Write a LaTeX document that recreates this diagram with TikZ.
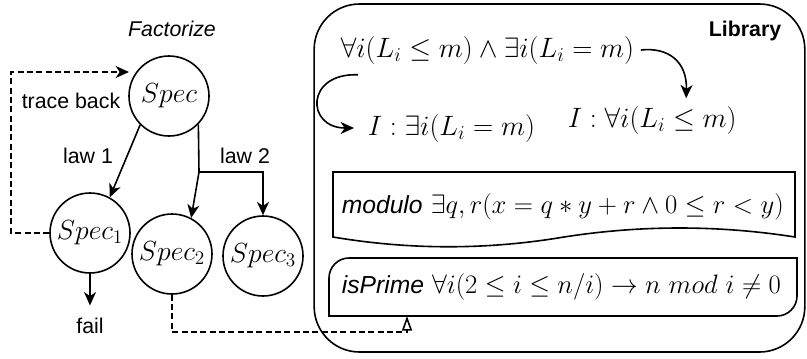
\RequirePackage{fix-cm}
\documentclass[tikz,border=0pt]{standalone}
\usepackage{fontspec}
\setsansfont{Liberation Sans}
\usetikzlibrary{arrows.meta,calc}
\newcommand{\sansit}{\fontsize{18.5}{22}\selectfont\sffamily\itshape}
\begin{document}
\begin{tikzpicture}[x=0.75pt,y=-0.75pt,
  line width=1.2pt,
  circ/.style={draw,circle,minimum size=60pt,inner sep=0pt,font=\fontsize{20.74}{24}\selectfont},
  lab/.style={font=\fontsize{16}{19}\selectfont\sffamily},
  mth/.style={font=\fontsize{21}{25}\selectfont,inner sep=0pt,anchor=base west},
  boxmth/.style={font=\fontsize{20}{24}\selectfont,inner sep=0pt,anchor=base west},
  arr/.style={-{Stealth[length=10pt,width=9pt,inset=3pt]}},
  dsh/.style={dash pattern=on 4.5pt off 2.5pt},
  tri/.style={-{Triangle[open,length=11pt,width=7.5pt,line width=1.2pt]}}]
\useasboundingbox (0,0) rectangle (807,358);

% left part
\node[lab,font=\fontsize{16}{19}\selectfont\sffamily\itshape] (fact) at (172,29) {Factorize};
\node[circ] (spec) at (169,96) {$Spec$};
\node[circ] (s1) at (90,233) {$Spec_1$};
\node[circ] (s2) at (172,254) {$Spec_2$};
\node[circ] (s3) at (263,256) {$Spec_3$};
\node[lab] (tb) at (71,101) {trace back};
\node[lab] (l1) at (88,156) {law 1};
\node[lab] (l2) at (245,156) {law 2};
\node[lab,inner sep=0pt] (fail) at (90,326) {fail};

\coordinate (sp) at (199,172);
\coordinate (tbend) at (129,72);
\coordinate (ipb) at (407,316);

\draw[arr] (spec.south west) -- (s1.61);
\draw (spec.-44) -- (sp);
\draw[arr] (sp) -- (s2.62);
\draw[arr] (sp) -| (s3.north);
\draw[arr,shorten >=9pt] (s1.south) -- (fail.north);
\draw[dsh,arr] (s1.west) -- ++(-38,0) |- (tbend);
\draw[dsh,tri] (s2.south) -- ++(0,37) -| (ipb);

% library
\node[draw,rounded corners=34pt,minimum width=368pt,minimum height=261pt] (lib) at (559.5,178) {};
\node[font=\fontsize{16}{19}\selectfont\sffamily\bfseries] (libt) at (745,31) {Library};
\node[mth] (f1) at (340,57) {$\forall i(L_i \leq m) \wedge \exists i(L_i = m)$};
\node[mth] (e1) at (367,135) {$I : \exists i(L_i = m)$};
\node[mth] (e2) at (567,127) {$I : \forall i(L_i \leq m)$};
\draw[arr] ([shift={(18,10)}]f1.south west) .. controls +(-53,-2) and +(-48,0) .. ([shift={(-13,0)}]e1.west);
\draw[arr] ([xshift=4.5pt]f1.east) .. controls +(27,-3) and +(1,-37) .. ([shift={(34,-7)}]e2.north);

\node[boxmth] (mod) at (341,213) {{\sansit modulo} $\exists q, r(x = q * y + r \wedge 0 \leq r < y)$};
\draw (333,172) -- (795,172) -- (795,237) .. controls (718,225) and (641,225) .. (564,237) .. controls (487,250) and (410,250) .. (333,237) -- cycle;

\node[boxmth] (prime) at (341,293) {{\sansit isPrime} $\forall i(2 \leq i \leq n/i) \rightarrow n\ mod\ i \neq 0$};
\draw (329,316) -- (329,278) .. controls (329,267) and (338,258) .. (349,258) -- (797,258) -- (797,296) .. controls (797,307) and (788,316) .. (777,316) -- cycle;
\end{tikzpicture}
\end{document}
